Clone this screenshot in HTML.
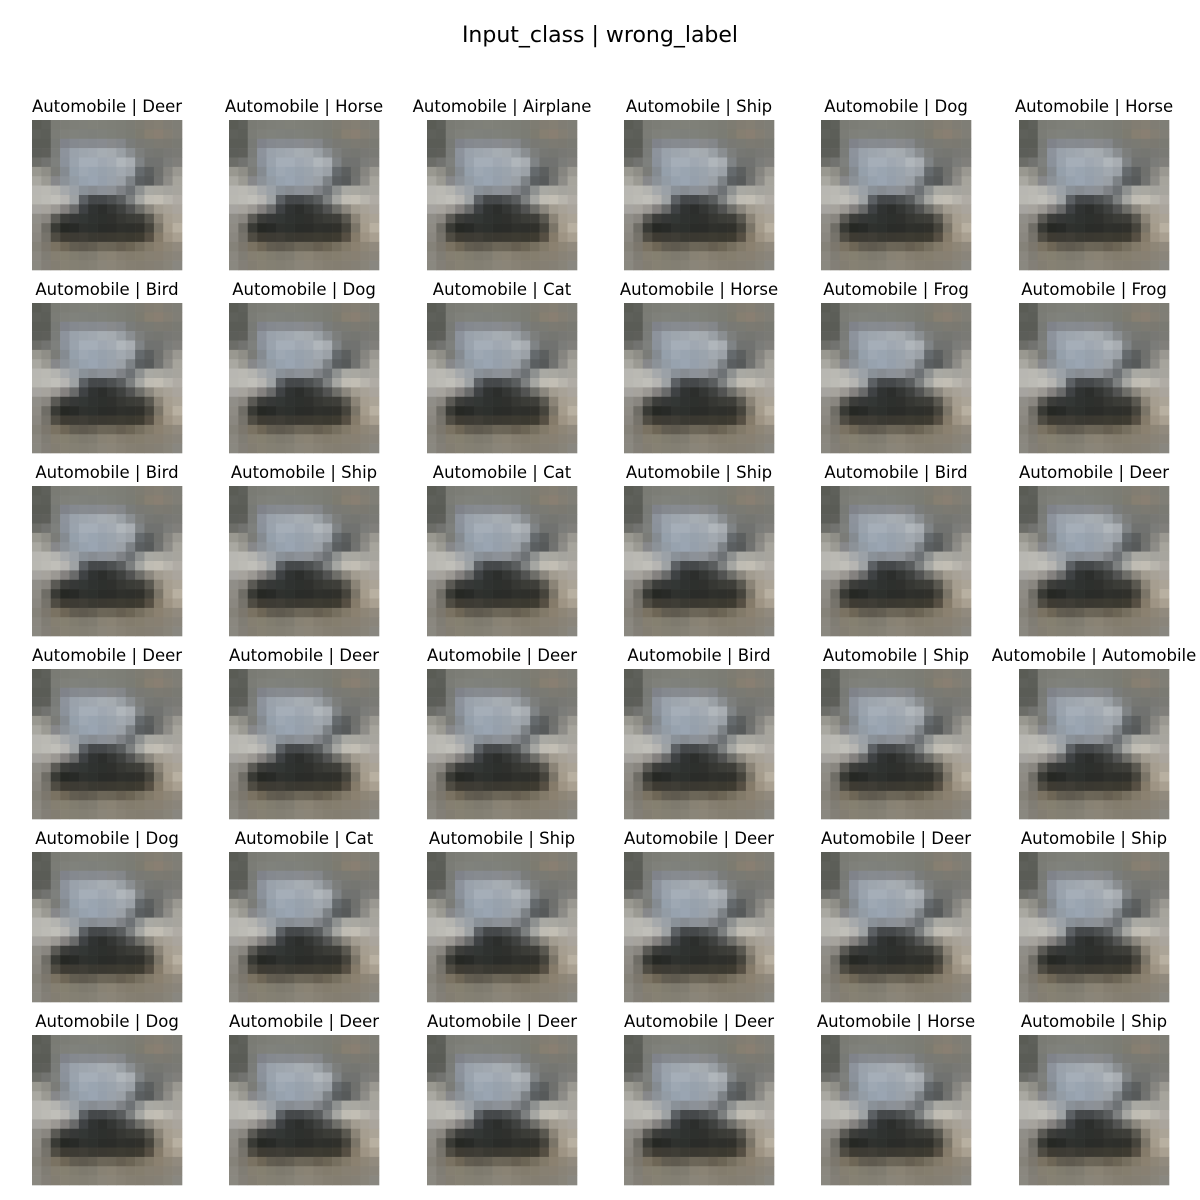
<!DOCTYPE html>
<html><head><meta charset="utf-8"><style>
html,body{margin:0;padding:0;background:#fff;width:1200px;height:1200px;overflow:hidden}
svg text{font-family:"DejaVu Sans","Liberation Sans",sans-serif;fill:#000}
</style></head><body>
<svg id="fig" width="1200" height="1200" xmlns="http://www.w3.org/2000/svg">
<rect width="1200" height="1200" fill="#fff"/>
<text x="600" y="42" font-size="22" text-anchor="middle">Input_class | wrong_label</text>
</svg>
<script>
const inputClass = "Automobile";
const wrongLabels = [
 "Deer","Horse","Airplane","Ship","Dog","Horse",
 "Bird","Dog","Cat","Horse","Frog","Frog",
 "Bird","Ship","Cat","Ship","Bird","Deer",
 "Deer","Deer","Deer","Bird","Ship","Automobile",
 "Dog","Cat","Ship","Deer","Deer","Ship",
 "Dog","Deer","Deer","Deer","Horse","Ship"
];
const pixels = [
"5a5c55 5e605a 7a7b74 7c7d76 7e7f78 7f8079 808179 7f8078 7e7f77 7d7e76 7c7c74 7e7c72 827d72 847f73 807d74 7f7e76",
"5e605a 5c5e58 7b7c76 7f807a 80827c 7f817c 7e807b 7f817b 7e8079 7d7e77 7b7c74 7d7b70 867f71 897f72 837e73 807e76",
"5a5c56 5a5c56 787a76 80838a 85898f 878b90 868a8f 888b90 888a8c 84878a 7a7c7a 797974 7a7a73 7c7a72 7b7971 7a7a73",
"5c5e59 5e5f5a 7a7c79 8d939c 9aa2ab 9ea6ae a1a8b0 a6adb3 a5abb0 9aa0a5 8a8e91 7c7e7c 767773 757671 787874 7a7a75",
"6c6d68 727370 7e807d 8b929b 9aa3ad a5aeb8 a5aeb8 a0a8b2 a4abb3 b0b6bb a8adb2 7f8385 707270 717270 7b7c79 807f7b",
"999890 8f8e87 7b7c78 858b91 95a0ab 9ea8b3 9aa5b1 98a2ad 9ba4ad a2a9b0 9ba1a7 656a6d 5c5f5f 6f706d 868580 9a9891",
"a9a8a1 9b9a93 87888a 8c9298 939ca5 97a2ae 9aa5b2 96a0ac 9aa2ab 9aa0a6 7d8286 5b5f61 575a5a 717270 8d8c87 a6a49c",
"b8b7b2 bab9b3 b4b4b0 a6a9ab 9ba1a7 8a9198 878c92 8c9198 8d9196 7f8286 6e7275 8e9190 a9a9a3 a9a8a1 a5a49e a7a59e",
"b9b8b2 bcbbb5 c0bfb9 b6b5b2 9ea2a4 5c6064 45484a 45484a 4d5051 5a5d5e 7c7f7f a5a6a2 bfbcb3 c2beb4 b8b5ad b0aca5",
"a6a4a0 a6a39d 9b9893 84817f 696a6a 3f4244 303332 2c2e2c 343634 3f413f 525352 6e6e69 8b877e a29c90 a8a297 aaa59d",
"908e88 898680 5a5954 3c3d3a 363837 333735 2f3230 2d302d 2f302d 363733 3b3c37 3e3e39 5a5850 8b8477 a69e90 aba497",
"8e8b84 6f6d66 393a35 262824 282a27 2f312e 2d302d 2a2c29 2b2c29 2f302c 2e2f2b 30302b 46443c 7b7568 a59c8c b8b0a1",
"8a8780 76736b 4f4c43 3e3b33 3d3b34 3f3d36 3a3932 3a3831 3b3931 3d3b32 3b3930 3e3b31 564f43 857b6a 9e9484 a9a091",
"858279 7c776d 7a7262 6e6656 625d51 5f5a4f 635e52 6c6658 6b6557 665f51 6c6555 766f5f 827a69 8b8170 8e8677 918a7e",
"8a877f 807d74 857f71 858070 817d6f 7e7a6e 807c70 888274 8a8374 857e70 837c6d 857e6e 878072 888072 898377 8a857b",
"8a8880 837f77 837e72 868173 848073 837f73 858175 8a8579 8b8578 888275 857f72 847e71 857f73 858075 888479 898780"
];
const NS="http://www.w3.org/2000/svg";
const svg=document.getElementById('fig');
const colX=[32,229,427,624,821,1019], rowY=[120,303,486,669,852,1035], S=150;
const grid=pixels.map(r=>r.split(' '));
const n=grid.length, cell=S/n;
wrongLabels.forEach((lab,i)=>{
  const x0=colX[i%6], y0=rowY[Math.floor(i/6)];
  const g=document.createElementNS(NS,'g');
  
  
  const t=document.createElementNS(NS,'text');
  
  
  t.setAttribute('x',x0+S/2);t.setAttribute('y',y0-8);
  t.setAttribute('font-size','16.5');t.setAttribute('text-anchor','middle');
  t.textContent=inputClass+' | '+lab;
  g.appendChild(t);
  const im=document.createElementNS(NS,'g');
  
  
  grid.forEach((row,r)=>row.forEach((c,k)=>{
    const p=document.createElementNS(NS,'rect');
    p.setAttribute('x',(x0+k*cell).toFixed(2));p.setAttribute('y',(y0+r*cell).toFixed(2));
    p.setAttribute('width',(cell+0.3).toFixed(2));p.setAttribute('height',(cell+0.3).toFixed(2));
    p.setAttribute('fill','#'+c);
    im.appendChild(p);
  }));
  g.appendChild(im);
  svg.appendChild(g);
});
</script>
</body></html>
